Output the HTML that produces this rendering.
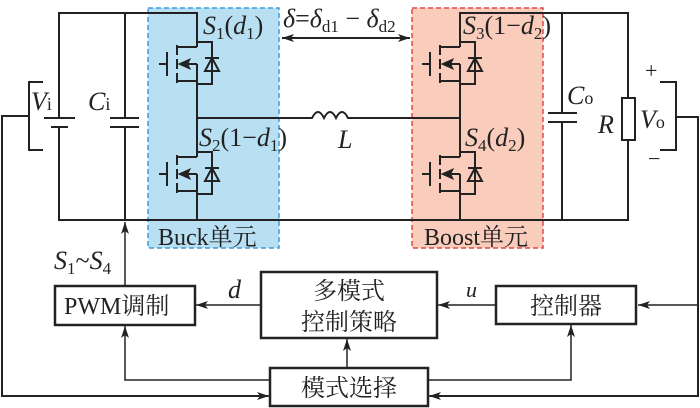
<!DOCTYPE html>
<html><head><meta charset="utf-8"><style>
body{margin:0;background:#fff}
svg{display:block}
text{font-family:"Liberation Serif","Noto Serif CJK SC","Noto Sans CJK SC",serif;fill:#222}
</style></head><body>
<svg width="700" height="408" viewBox="0 0 700 408" xmlns="http://www.w3.org/2000/svg">
<defs>
<marker id="ar" viewBox="0 0 12 8" refX="12" refY="4" markerWidth="12" markerHeight="8" markerUnits="userSpaceOnUse" orient="auto-start-reverse">
<path d="M0,0 L12,4 L0,8 L3,4 Z" fill="#222"/></marker>
<g id="sw" fill="none" stroke="#222" stroke-width="2">
<path d="M0,0 H15 V42 H0"/>
<path d="M0,5 H-20 M0,39 H-20 M0,22 V39"/>
<path d="M-20,3 V13 M-20,17 V27 M-20,31 V41"/>
<path d="M0,22 H-10"/>
<path d="M-17,22 L-8,18 L-10,22 L-8,26 Z" fill="#222"/>
<path d="M-30,10 V34 M-38,22 H-30"/>
<path d="M8,16 H22 M15,16 L8,29 H22 Z"/>
</g>
</defs>
<rect x="148" y="8" width="131" height="240" fill="#b9dff2" stroke="#3d9bd6" stroke-width="1.5" stroke-dasharray="5,3"/>
<rect x="412" y="8" width="131" height="240" fill="#f9ccbb" stroke="#e04848" stroke-width="1.5" stroke-dasharray="5,3"/>
<g fill="none" stroke="#222" stroke-width="2">
<path d="M59,118 V13 H197 V47 M197,81 V157 M197,191 V220 H59 V128"/>
<path d="M125,13 V118 M125,127 V220"/>
<path d="M110,118 H139 M110,127 H139"/>
<path d="M44,118 H75 M51,127 H68"/>
<path d="M43,82 H29 V150 H43 M29,116 H2 V396 H268" />
<path d="M197,118 H312 q6,-12 12,0 q6,-12 12,0 q6,-12 12,0 H460"/>
<path d="M460,47 V13 H628 V98 M628,140 V220 H197 M460,81 V157 M460,191 V220"/>
<path d="M562,13 V113 M562,122 V220 M548,113 H577 M548,122 H577"/>
<rect x="622" y="98" width="13" height="42"/>
<path d="M660,82 H676 V150 H660 M676,117 H698 V396 H430"/>
<path d="M282,38 H410" marker-start="url(#ar)" marker-end="url(#ar)"/>
</g>
<path d="M698,305 H638" stroke="#222" stroke-width="1.5" marker-end="url(#ar)"/>
<path d="M2,396 H269" stroke="#222" stroke-width="1.5" marker-end="url(#ar)"/>
<path d="M698,396 H429" stroke="#222" stroke-width="1.5" marker-end="url(#ar)"/>
<use href="#sw" x="197" y="42"/>
<use href="#sw" x="197" y="152"/>
<use href="#sw" x="460" y="42"/>
<use href="#sw" x="460" y="152"/>
<g fill="none" stroke="#222" stroke-width="1.5">
<path d="M125,285 V222" marker-end="url(#ar)"/>
<path d="M261,305 H196" marker-end="url(#ar)"/>
<path d="M496,305 H438" marker-end="url(#ar)"/>
<path d="M347,368 V339" marker-end="url(#ar)"/>
<path d="M270,380 H125 V326" marker-end="url(#ar)"/>
<path d="M427,380 H571 V325" marker-end="url(#ar)"/>
</g>
<g fill="#fff" stroke="#222" stroke-width="2.5">
<rect x="55" y="286" width="140" height="39"/>
<rect x="261" y="272" width="176" height="66"/>
<rect x="496" y="286" width="140" height="38"/>
<rect x="270" y="368" width="158" height="38"/>
</g>
<g font-size="24">
<text x="64" y="314">PWM调制</text>
<text x="313" y="299">多模式</text>
<text x="301" y="330">控制策略</text>
<text x="530" y="314">控制器</text>
<text x="301" y="396">模式选择</text>
<text x="158" y="245">Buck单元</text>
<text x="424" y="245">Boost单元</text>
</g>
<g font-size="26" font-style="italic">
<text x="228" y="298">d</text>
<text x="466" y="297" font-size="22">u</text>
<text x="31" y="110">V<tspan font-style="normal" font-size="18">i</tspan></text>
<text x="88" y="110">C<tspan font-style="normal" font-size="18">i</tspan></text>
<text x="338" y="148">L</text>
<text x="567" y="104">C<tspan font-style="normal" font-size="18">o</tspan></text>
<text x="598" y="133">R</text>
<text x="640" y="128">V<tspan font-style="normal" font-size="18">o</tspan></text>
<text x="203" y="34">S<tspan font-style="normal" font-size="17" dy="5">1</tspan><tspan font-style="normal" dy="-5">(</tspan>d<tspan font-style="normal" font-size="17" dy="5">1</tspan><tspan font-style="normal" dy="-5">)</tspan></text>
<text x="199" y="146">S<tspan font-style="normal" font-size="17" dy="5">2</tspan><tspan font-style="normal" dy="-5">(1−</tspan>d<tspan font-style="normal" font-size="17" dy="5">1</tspan><tspan font-style="normal" dy="-5">)</tspan></text>
<text x="463" y="34">S<tspan font-style="normal" font-size="17" dy="5">3</tspan><tspan font-style="normal" dy="-5">(1−</tspan>d<tspan font-style="normal" font-size="17" dy="5">2</tspan><tspan font-style="normal" dy="-5">)</tspan></text>
<text x="465" y="146">S<tspan font-style="normal" font-size="17" dy="5">4</tspan><tspan font-style="normal" dy="-5">(</tspan>d<tspan font-style="normal" font-size="17" dy="5">2</tspan><tspan font-style="normal" dy="-5">)</tspan></text>
<text x="283" y="27">δ<tspan font-style="normal">=</tspan>δ<tspan font-style="normal" font-size="17" dy="5">d1</tspan><tspan font-style="normal" dy="-5"> − </tspan>δ<tspan font-style="normal" font-size="17" dy="5">d2</tspan></text>
<text x="54" y="269">S<tspan font-style="normal" font-size="17" dy="5">1</tspan><tspan font-style="normal" dy="-5">~</tspan>S<tspan font-style="normal" font-size="17" dy="5">4</tspan></text>
</g>
<g font-size="22"><text x="645" y="78">+</text><text x="648" y="166">−</text></g>
</svg>
</body></html>
